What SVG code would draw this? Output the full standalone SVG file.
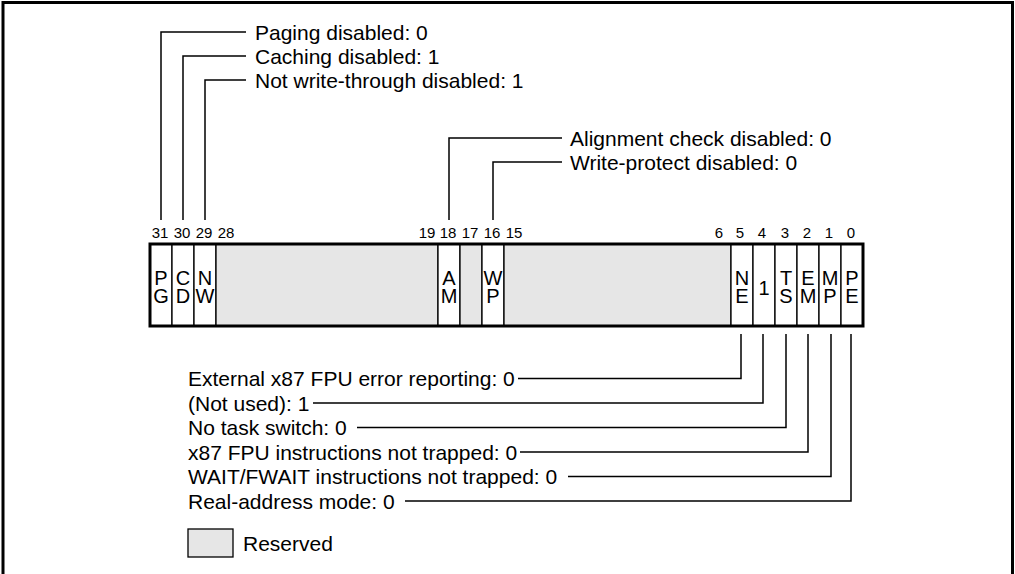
<svg xmlns="http://www.w3.org/2000/svg" width="1015" height="574" viewBox="0 0 1015 574">
<style>
.lbl{font-family:"Liberation Sans",Arial,sans-serif;font-size:21px;fill:#000}
.num{font-family:"Liberation Sans",Arial,sans-serif;font-size:15px;fill:#000;text-anchor:middle}
.bit{font-family:"Liberation Sans",Arial,sans-serif;font-size:20px;fill:#000;text-anchor:middle}
.cell{fill:#fff;stroke:#000;stroke-width:1.3}
.res{fill:#e6e6e6;stroke:#000;stroke-width:1.3}
.conn{fill:none;stroke:#000;stroke-width:1.5}
</style>
<rect x="3" y="2.5" width="1009.5" height="600" fill="none" stroke="#000" stroke-width="3"/>

<g id="register">
<rect class="cell" x="150" y="244" width="22" height="82"/>
<rect class="cell" x="172" y="244" width="22" height="82"/>
<rect class="cell" x="194" y="244" width="22" height="82"/>
<rect class="res" x="216" y="244" width="222" height="82"/>
<rect class="cell" x="438" y="244" width="22" height="82"/>
<rect class="res" x="460" y="244" width="22" height="82"/>
<rect class="cell" x="482" y="244" width="22" height="82"/>
<rect class="res" x="504" y="244" width="227" height="82"/>
<rect class="cell" x="731" y="244" width="22" height="82"/>
<rect class="cell" x="753" y="244" width="22" height="82"/>
<rect class="cell" x="775" y="244" width="22" height="82"/>
<rect class="cell" x="797" y="244" width="22" height="82"/>
<rect class="cell" x="819" y="244" width="22" height="82"/>
<rect class="cell" x="841" y="244" width="22" height="82"/>
<rect x="150" y="244" width="713" height="82" fill="none" stroke="#000" stroke-width="3"/>
</g>

<g id="bitnames">
<text class="bit" y="285"><tspan x="161">P</tspan><tspan x="161" dy="18">G</tspan></text>
<text class="bit" y="285"><tspan x="183">C</tspan><tspan x="183" dy="18">D</tspan></text>
<text class="bit" y="285"><tspan x="205">N</tspan><tspan x="205" dy="18">W</tspan></text>
<text class="bit" y="285"><tspan x="449">A</tspan><tspan x="449" dy="18">M</tspan></text>
<text class="bit" y="285"><tspan x="493">W</tspan><tspan x="493" dy="18">P</tspan></text>
<text class="bit" y="285"><tspan x="742">N</tspan><tspan x="742" dy="18">E</tspan></text>
<text class="bit" x="764" y="295">1</text>
<text class="bit" y="285"><tspan x="786">T</tspan><tspan x="786" dy="18">S</tspan></text>
<text class="bit" y="285"><tspan x="808">E</tspan><tspan x="808" dy="18">M</tspan></text>
<text class="bit" y="285"><tspan x="830">M</tspan><tspan x="830" dy="18">P</tspan></text>
<text class="bit" y="285"><tspan x="852">P</tspan><tspan x="852" dy="18">E</tspan></text>
</g>

<g id="bitnumbers">
<text class="num" x="160" y="238">31</text>
<text class="num" x="182" y="238">30</text>
<text class="num" x="204" y="238">29</text>
<text class="num" x="226" y="238">28</text>
<text class="num" x="427" y="238">19</text>
<text class="num" x="448" y="238">18</text>
<text class="num" x="470" y="238">17</text>
<text class="num" x="492" y="238">16</text>
<text class="num" x="514" y="238">15</text>
<text class="num" x="719" y="238">6</text>
<text class="num" x="740" y="238">5</text>
<text class="num" x="762" y="238">4</text>
<text class="num" x="785" y="238">3</text>
<text class="num" x="807" y="238">2</text>
<text class="num" x="829" y="238">1</text>
<text class="num" x="851" y="238">0</text>
</g>

<g id="connectors">
<polyline class="conn" points="161,220 161,32 246,32"/>
<polyline class="conn" points="183,220 183,56 246,56"/>
<polyline class="conn" points="205,220 205,80 246,80"/>
<polyline class="conn" points="449,220 449,138 562,138"/>
<polyline class="conn" points="493,220 493,162 562,162"/>
<polyline class="conn" points="741,334 741,378.5 518,378.5"/>
<polyline class="conn" points="763,334 763,403 313,403"/>
<polyline class="conn" points="786,334 786,427.5 357,427.5"/>
<polyline class="conn" points="808,334 808,452 520,452"/>
<polyline class="conn" points="831,334 831,476.5 568,476.5"/>
<polyline class="conn" points="851,334 851,501 405,501"/>
</g>

<g id="top-labels">
<text class="lbl" x="255" y="39.5">Paging disabled: 0</text>
<text class="lbl" x="255" y="63.5">Caching disabled: 1</text>
<text class="lbl" x="255" y="87.5">Not write-through disabled: 1</text>
<text class="lbl" x="570" y="145.5">Alignment check disabled: 0</text>
<text class="lbl" x="570" y="169.5">Write-protect disabled: 0</text>
</g>

<g id="bottom-labels">
<text class="lbl" x="188" y="386">External x87 FPU error reporting: 0</text>
<text class="lbl" x="188" y="410.5">(Not used): 1</text>
<text class="lbl" x="188" y="435">No task switch: 0</text>
<text class="lbl" x="188" y="459.5">x87 FPU instructions not trapped: 0</text>
<text class="lbl" x="188" y="484">WAIT/FWAIT instructions not trapped: 0</text>
<text class="lbl" x="188" y="508.5">Real-address mode: 0</text>
</g>

<g id="legend">
<rect class="res" x="188" y="529" width="45" height="28"/>
<text class="lbl" x="243" y="550.5">Reserved</text>
</g>
</svg>
